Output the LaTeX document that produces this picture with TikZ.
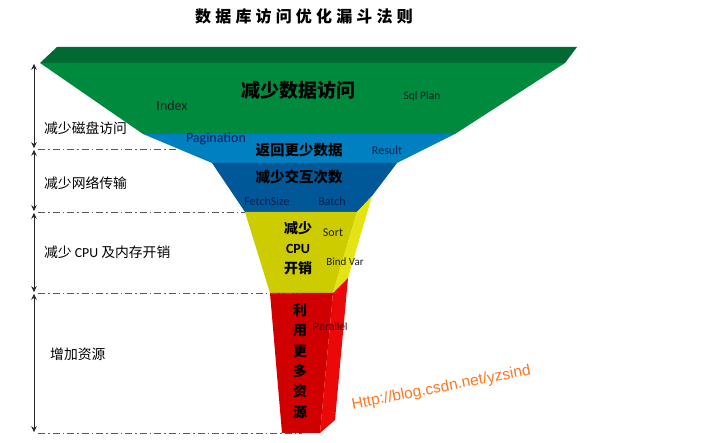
\documentclass[tikz,border=0pt]{standalone}
\usepackage{fontspec}
\usepackage{xcolor}
\setmainfont{Carlito}
\newfontfamily\cjk{Noto Sans CJK SC}
\newfontfamily\cjktitle[LetterSpace=26]{Noto Sans CJK SC}
\newfontfamily\urlfont{Liberation Sans}
\usetikzlibrary{arrows.meta, positioning, calc}

\definecolor{greendark}{RGB}{0,106,50}
\definecolor{greenmain}{RGB}{0,138,62}
\definecolor{bluelight}{RGB}{0,128,192}
\definecolor{bluedark}{RGB}{0,88,152}
\definecolor{yellowfront}{RGB}{204,204,0}
\definecolor{yellowside}{RGB}{228,228,20}
\definecolor{redfront}{RGB}{208,0,0}
\definecolor{redside}{RGB}{234,8,8}
\definecolor{urlorange}{RGB}{255,118,30}
\definecolor{navytext}{RGB}{5,30,80}

\begin{document}
\begin{tikzpicture}[
    x=1pt, y=-1pt,
    >={Stealth[length=6pt, width=5.5pt]},
    cjklabel/.style={font=\cjk\fontsize{13.8}{16}\selectfont, anchor=west, inner sep=0pt},
    boldlabel/.style={font=\cjk\bfseries\fontsize{14.5}{17}\selectfont, inner sep=0pt, align=center},
    hint/.style={font=\fontsize{12}{14}\selectfont, text=black!88, inner sep=0pt},
    stageline/.style={draw=black!65, line width=0.6pt, dash pattern=on 7pt off 3pt on 1.5pt off 3pt},
    gauge/.style={<->, line width=0.8pt, draw=black!85, shorten <=0.8pt, shorten >=0.8pt}
]
    \useasboundingbox (0,0) rectangle (723,443);

    % --- 1. Funnel ---
    \fill[greendark] (57,47) -- (577,47) -- (565,63) -- (40,63) -- cycle;
    \fill[greenmain] (40,63) -- (565,63) -- (455,134) -- (143,134) -- cycle;
    \fill[bluelight] (143,134) -- (455,134) -- (397,163) -- (212,163) -- cycle;
    \fill[bluedark] (212,163) -- (397,163) -- (372,196) -- (357,212) -- (245,212) -- cycle;
    \fill[yellowfront] (245,212) -- (357,212) -- (333,293) -- (270,293) -- cycle;
    \fill[yellowside] (357,212) -- (372,196) -- (348,278) -- (333,293) -- cycle;
    \fill[redfront] (270,293) -- (333,293) -- (320,433) -- (282,433) -- cycle;
    \fill[redside] (333,293) -- (348,278) -- (335,420) -- (320,433) -- cycle;

    % --- 2. Title ---
    \node[font=\cjktitle\bfseries\fontsize{16}{18}\selectfont] (title) at (304,16) {数据库访问优化漏斗法则};

    % --- 3. Levels on the left ---
    \coordinate (m0) at (34,63);
    \coordinate (m1) at (34,149);
    \coordinate (m2) at (34,212);
    \coordinate (m3) at (34,293);
    \coordinate (m4) at (34,433);
    \coordinate (e1) at (177,149);
    \coordinate (e2) at (245,212);
    \coordinate (e3) at (300,293);
    \coordinate (e4) at (302,433);

    \draw[stageline] ($(m1)+(4,0)$) -- (e1);
    \draw[stageline] ($(m2)+(4,0)$) -- (e2);
    \draw[stageline] ($(m3)+(4,0)$) -- (e3);
    \draw[stageline] ($(m4)+(4,0)$) -- (e4);

    \draw[gauge] (m0) -- (m1);
    \draw[gauge] (m1) -- (m2);
    \draw[gauge] (m2) -- (m3);
    \draw[gauge] (m3) -- (m4);

    \node[cjklabel] (disk) at (44,128) {减少磁盘访问};
    \node[cjklabel] (net) at (44,183) {减少网络传输};
    \node[cjklabel] (cpu) at (44,252) {减少 {\rmfamily CPU} 及内存开销};
    \node[cjklabel] (more) at (50,354) {增加资源};

    % --- 4. Funnel texts ---
    \node[boldlabel, font=\cjk\bfseries\fontsize{19}{21}\selectfont] (access) at (298,90) {减少数据访问};
    \node[hint, font=\fontsize{14}{16}\selectfont] (index) at (172,106) {Index};
    \node[hint, font=\fontsize{11.5}{14}\selectfont] (plan) at (422,96) {Sql Plan};

    \node[hint, font=\fontsize{14}{16}\selectfont, text=navytext] (page) at (216,139) {Pagination};
    \node[boldlabel] (fewer) at (299,150) {返回更少数据};
    \node[hint, text=navytext] (result) at (387,150) {Result};

    \node[boldlabel] (trips) at (299,177) {减少交互次数};
    \node[hint, text=navytext] (fetch) at (267,201) {FetchSize};
    \node[hint, text=navytext] (batch) at (332,201) {Batch};

    \node[boldlabel, font=\cjk\bfseries\fontsize{14}{20}\selectfont] (cost) at (298,248) {减少\\{\rmfamily\bfseries CPU}\\开销};
    \node[hint] (sort) at (333,233) {Sort};
    \node[hint, font=\fontsize{11}{13}\selectfont] (bind) at (345,262) {Bind Var};

    \node[boldlabel, font=\cjk\bfseries\fontsize{14}{20.4}\selectfont] (use) at (300,361) {利\\用\\更\\多\\资\\源};
    \node[hint, font=\urlfont\fontsize{10.5}{12}\selectfont, text=black!70!red] (parallel) at (330,327) {Parallel};

    % --- 5. Link ---
    \node[font=\urlfont\fontsize{15.5}{18}\selectfont, text=urlorange, rotate=11, anchor=base, inner sep=0pt] (url) at (442,392) {Http://blog.csdn.net/yzsind};
\end{tikzpicture}
\end{document}
